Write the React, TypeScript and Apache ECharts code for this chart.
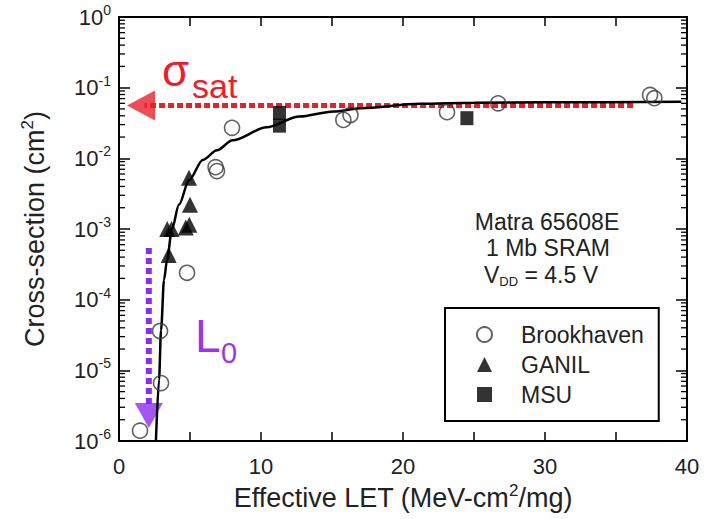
import React, { useEffect, useRef } from "react";
import * as echarts from "echarts";

// ---- data ----
const brookhaven: [number, number][] = [
  [1.48, 1.4e-6], [2.96, 6.6e-6], [2.89, 3.6e-5], [4.79, 2.4e-4],
  [6.8, 7.5e-3], [6.9, 6.6e-3], [7.96, 2.7e-2], [15.8, 3.5e-2], [16.3, 4.1e-2],
  [23.1, 4.5e-2], [26.7, 6.0e-2], [37.4, 7.9e-2], [37.7, 7.1e-2],
];
const ganil: [number, number][] = [
  [3.5, 4.3e-4], [3.4, 1.0e-3], [3.7, 1.0e-3], [4.7, 1.05e-3], [4.95, 1.15e-3],
  [5.0, 2.2e-3], [4.93, 5.3e-3],
];
const msu: [number, number][] = [
  [11.3, 4.4e-2], [11.3, 2.9e-2], [24.5, 3.7e-2],
];
const fitCurve: [number, number][] = [
  [2.6, 1e-6], [2.82, 7.4e-6], [2.96, 3.7e-5], [3.17, 1.9e-4], [3.38, 3.6e-4],
  [3.73, 1.0e-3], [4.22, 2.2e-3], [4.93, 4.9e-3], [5.9, 9.5e-3], [6.9, 1.3e-2],
  [8.0, 1.8e-2], [10.4, 2.75e-2], [12.7, 3.9e-2], [15.1, 4.6e-2], [17.0, 5.1e-2],
  [21.2, 5.9e-2], [25.0, 6.1e-2], [30.0, 6.2e-2], [39.6, 6.3e-2],
];
const sigmaSatLine: [number, number][] = [[36.2, 0.056], [1.8, 0.056]];
const sigmaSatHead: [number, number][] = [[1.55, 0.056]];
const l0Line: [number, number][] = [[2.1, 5.4e-4], [2.1, 3.2e-6]];
const l0Head: [number, number][] = [[2.1, 2.3e-6]];
const legendNames = ["Brookhaven", "GANIL", "MSU"];
const decades = [-6, -5, -4, -3, -2, -1];
const minorMultipliers = [2, 3, 4, 5, 6, 7, 8, 9];
const noteLines = ["Matra 65608E", "1 Mb SRAM"];

const FONT = "'Liberation Sans', Arial, Helvetica, sans-serif";
const TXT = "#222";
const RED = "#e8202a";
const VIOLET = "#8b2cf0";

export default function App() {
  const ref = useRef<HTMLDivElement>(null);
  useEffect(() => {
    if (!ref.current) return;
    const chart = echarts.init(ref.current, undefined, { renderer: "svg" });
    const minorTicks: [number, number][] = [];
    decades.forEach((d) => minorMultipliers.forEach((m) => minorTicks.push([0, m * Math.pow(10, d)])));

    const titleRich = {
      t: { fontSize: 27, color: TXT, fontFamily: FONT, lineHeight: 32 },
      s: { fontSize: 17, color: TXT, fontFamily: FONT, verticalAlign: "top", lineHeight: 17 },
    };

    const xAxisBase = {
      type: "value",
      min: 0,
      max: 40,
      interval: 10,
      axisLine: { show: true, onZero: false, lineStyle: { color: "#000", width: 2 } },
      axisTick: { show: true, inside: true, length: 9, lineStyle: { color: "#000", width: 1.5 } },
      minorTick: { show: true, splitNumber: 2, length: 9, lineStyle: { color: "#000", width: 1.5 } },
      splitLine: { show: false },
      minorSplitLine: { show: false },
    };
    const yAxisBase = {
      type: "log",
      logBase: 10,
      min: 1e-6,
      max: 1,
      splitNumber: 6,
      axisLine: { show: true, onZero: false, lineStyle: { color: "#000", width: 2 } },
      axisTick: { show: true, inside: true, length: 11, lineStyle: { color: "#000", width: 1.5 } },
      splitLine: { show: false },
    };

    const option: any = {
      animation: false,
      backgroundColor: "#fff",
      grid: { left: 119, right: 17, top: 17, bottom: 78, outerBoundsMode: "none", containLabel: false },
      legend: {
        data: legendNames,
        orient: "vertical",
        left: 445,
        top: 308,
        itemWidth: 15,
        itemHeight: 15,
        itemGap: 7,
        padding: [15, 15, 15, 31],
        borderColor: "#000",
        borderWidth: 2,
        selectedMode: false,
        textStyle: { fontSize: 23, color: TXT, fontFamily: FONT, padding: [0, 0, 0, 24] },
      },
      xAxis: [
        {
          ...xAxisBase,
          position: "bottom",
          axisLabel: { fontSize: 22, color: TXT, fontFamily: FONT, margin: 14 },
          name: "{t|Effective LET (MeV-cm}{s|2}{t|/mg)}",
          nameLocation: "middle",
          nameGap: 33,
          nameTextStyle: { fontSize: 27, color: TXT, fontFamily: FONT, rich: titleRich },
        },
        { ...xAxisBase, position: "top", axisLabel: { show: false } },
      ],
      yAxis: [
        {
          ...yAxisBase,
          position: "left",
          axisLabel: {
            margin: 8,
            formatter: (v: number) => `{b|10}{s|${Math.round(Math.log10(v))}}`,
            rich: {
              b: { fontSize: 22, color: TXT, fontFamily: FONT, lineHeight: 28 },
              s: { fontSize: 14, color: TXT, fontFamily: FONT, verticalAlign: "top", lineHeight: 14 },
            },
          },
          name: "{t|Cross-section (cm}{s|2}{t|)}",
          nameLocation: "middle",
          nameRotate: 90,
          nameGap: 68,
          nameTextStyle: { fontSize: 27, color: TXT, fontFamily: FONT, rich: titleRich },
        },
        { ...yAxisBase, position: "right", axisLabel: { show: false } },
      ],
      series: [
        {
          name: "σsat",
          type: "line",
          data: sigmaSatLine,
          symbol: "none",
          lineStyle: { color: RED, width: 5, type: [6, 3] },
          z: 1,
        },
        {
          name: "σsatHead",
          type: "scatter",
          data: sigmaSatHead,
          symbol: "triangle",
          symbolRotate: 90,
          symbolSize: [30, 28],
          itemStyle: { color: RED },
          z: 1,
        },
        {
          name: "L0",
          type: "line",
          data: l0Line,
          symbol: "none",
          lineStyle: { color: VIOLET, width: 6, type: [6, 4] },
          z: 1,
        },
        {
          name: "L0Head",
          type: "scatter",
          data: l0Head,
          symbol: "triangle",
          symbolRotate: 180,
          symbolSize: [28, 25],
          itemStyle: { color: VIOLET },
          z: 1,
        },
        {
          name: "Fit",
          type: "line",
          data: fitCurve,
          symbol: "none",
          smooth: 0.3,
          smoothMonotone: "x",
          lineStyle: { color: "#000", width: 2.5 },
          z: 2,
        },
        {
          name: "Brookhaven",
          type: "scatter",
          data: brookhaven,
          symbol: "circle",
          symbolSize: 15,
          itemStyle: { color: "rgba(255,255,255,0)", borderColor: "#3a3a3a", borderWidth: 1.6 },
          z: 3,
        },
        {
          name: "GANIL",
          type: "scatter",
          data: ganil,
          symbol: "triangle",
          symbolSize: 16,
          itemStyle: { color: "#000" },
          z: 3,
        },
        {
          name: "MSU",
          type: "scatter",
          data: msu,
          symbol: "rect",
          symbolSize: [13, 14],
          itemStyle: { color: "#000" },
          z: 3,
        },
        {
          name: "minorTicks",
          type: "custom",
          data: minorTicks,
          silent: true,
          z: 4,
          renderItem: (_p: any, api: any) => {
            const v = api.value(1);
            const l = api.coord([0, v]);
            const r = api.coord([40, v]);
            return {
              type: "group",
              children: [
                { type: "line", shape: { x1: l[0], y1: l[1], x2: l[0] + 6, y2: l[1] }, style: { stroke: "#000", lineWidth: 1.3 } },
                { type: "line", shape: { x1: r[0], y1: r[1], x2: r[0] - 6, y2: r[1] }, style: { stroke: "#000", lineWidth: 1.3 } },
              ],
            };
          },
        },
      ],
      graphic: [
        { type: "text", x: 162, y: 70, style: { text: "σ", fontSize: 44, fontFamily: FONT, fill: RED, verticalAlign: "middle" } },
        { type: "text", x: 192, y: 86, style: { text: "sat", fontSize: 34, fontFamily: FONT, fill: RED, verticalAlign: "middle" } },
        { type: "text", x: 195, y: 336, style: { text: "L", fontSize: 46, fontFamily: FONT, fill: "#9b35e8", verticalAlign: "middle" } },
        { type: "text", x: 221, y: 353, style: { text: "0", fontSize: 29, fontFamily: FONT, fill: "#9b35e8", verticalAlign: "middle" } },
        { type: "text", x: 547, y: 222, style: { text: noteLines[0], fontSize: 23, fontFamily: FONT, fill: TXT, align: "center", verticalAlign: "middle" } },
        { type: "text", x: 548, y: 248, style: { text: noteLines[1], fontSize: 23, fontFamily: FONT, fill: TXT, align: "center", verticalAlign: "middle" } },
        {
          type: "text",
          x: 541,
          y: 275,
          style: {
            text: "{v|V}{s|DD}{v| = 4.5 V}",
            align: "center",
            verticalAlign: "middle",
            rich: {
              v: { fontSize: 23, fontFamily: FONT, fill: TXT, color: TXT, lineHeight: 26 },
              s: { fontSize: 13, fontFamily: FONT, fill: TXT, color: TXT, verticalAlign: "bottom", lineHeight: 13 },
            },
          },
        },
      ],
    };
    chart.setOption(option);
    return () => chart.dispose();
  }, []);
  return <div ref={ref} style={{ width: 704, height: 519, position: "absolute", left: 0, top: 0 }} />;
}
